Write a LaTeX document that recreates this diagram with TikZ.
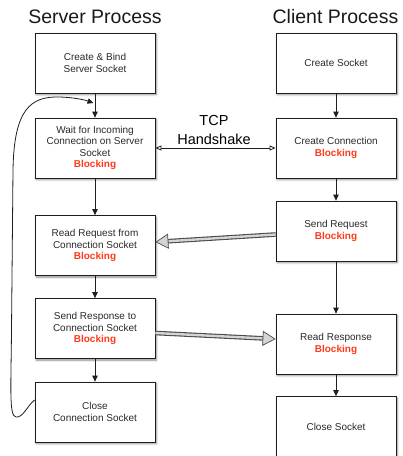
\documentclass[tikz,border=0pt]{standalone}
\usepackage{fontspec}
\setmainfont{Liberation Sans}
\usetikzlibrary{arrows.meta,calc,shadows.blur}
\definecolor{boxtext}{HTML}{2A2A2A}
\definecolor{blockred}{HTML}{FF3A1C}
\definecolor{edge}{HTML}{1E1E1E}
\definecolor{pipedark}{HTML}{4A4A4A}
\definecolor{pipelight}{HTML}{D4D4D4}
\newcommand{\blk}{\\{\bfseries\color{blockred}Blocking}}
\tikzset{
  stepbox/.style={draw=edge, line width=0.8pt, fill=white, minimum width=120pt,
    minimum height=60pt, inner sep=0pt, align=center, text=boxtext,
    font=\fontsize{10}{11.5}\selectfont,
    blur shadow={shadow xshift=1.3pt, shadow yshift=-1.6pt, shadow blur steps=4, shadow opacity=45}},
  title/.style={font=\fontsize{19.5}{22}\selectfont, text=black!90, inner sep=0pt},
  flow/.style={draw=edge, line width=0.8pt, -{Triangle[length=6pt,width=5.5pt]}},
  shake/.style={draw=edge, line width=0.8pt,
    {Triangle[open,length=6pt,width=5pt]}-{Triangle[open,length=6pt,width=5pt]}},
  pipeouter/.style={draw=pipedark, line width=4.6pt},
  pipeinner/.style={draw=pipelight, line width=2.4pt},
  pipehead/.style={draw=pipedark, line width=0.7pt,
    -{Triangle[length=13pt,width=15pt,fill=pipelight]}},
}
\begin{document}
\begin{tikzpicture}[x=1pt,y=-1pt]
\useasboundingbox (0,0) rectangle (403,456);

% column headings
\node[title, anchor=base] (srvtitle) at (95,23) {Server Process};
\node[title, anchor=base] (clititle) at (335.5,23) {Client Process};

% server side
\node[stepbox] (s1) at (95,63) {Create \& Bind\\Server Socket};
\node[stepbox] (s2) at (95,148) {Wait for Incoming\\Connection on Server\\Socket\blk};
\node[stepbox] (s3) at (95,245.5) {Read Request from\\Connection Socket\blk};
\node[stepbox] (s4) at (95,328.5) {Send Response to\\Connection Socket\blk};
\node[stepbox] (s5) at (95,412) {Close\\Connection Socket};

% client side
\node[stepbox] (c1) at (336,63) {Create Socket};
\node[stepbox] (c2) at (336,148) {Create Connection\blk};
\node[stepbox] (c3) at (336,231) {Send Request\blk};
\node[stepbox] (c4) at (336,344) {Read Response\blk};
\node[stepbox] (c5) at (336,426.5) {Close Socket};

% sequential steps
\draw[flow] (s1) -- (s2);
\draw[flow] (s2) -- (s3);
\draw[flow] (s3) -- (s4);
\draw[flow] (s4) -- (s5);
\draw[flow] (c1) -- (c2);
\draw[flow] (c2) -- (c3);
\draw[flow] (c3) -- (c4);
\draw[flow] (c4) -- (c5);

% handshake
\node[font=\fontsize{14.5}{19}\selectfont, align=center, inner sep=0pt, anchor=south] (tcp) at (214,145) {TCP\\Handshake};
\draw[shake] (s2.east) -- (c2.west);

% request / response transfers
\coordinate (rqfrom) at ([yshift=-3.5pt]c3.west);
\coordinate (rqto) at ([yshift=3.5pt]s3.west -| s3.east);
\draw[pipeouter] (rqfrom) -- ($(rqto)!11pt!(rqfrom)$);
\draw[pipeinner] (rqfrom) -- ($(rqto)!11pt!(rqfrom)$);
\draw[pipehead] ($(rqto)!13.5pt!(rqfrom)$) -- (rqto);

\coordinate (rsfrom) at ([yshift=-4.5pt]s4.east);
\coordinate (rsto) at ([yshift=5pt]c4.west);
\draw[pipeouter] (rsfrom) -- ($(rsto)!11pt!(rsfrom)$);
\draw[pipeinner] (rsfrom) -- ($(rsto)!11pt!(rsfrom)$);
\draw[pipehead] ($(rsto)!13.5pt!(rsfrom)$) -- (rsto);

% loop back to waiting for the next connection
\coordinate (loopstart) at ([yshift=12pt]s5.west);
\coordinate (loopend) at (93.5,103);
\draw[flow] (loopstart) .. controls (27,406) and (23,418) .. (16,417)
  .. controls (9,416) and (11,390) .. (11.5,330)
  -- (13,170)
  .. controls (14,110) and (30,96) .. (60,97)
  .. controls (75,97.5) and (85,100) .. (loopend);
\end{tikzpicture}
\end{document}
